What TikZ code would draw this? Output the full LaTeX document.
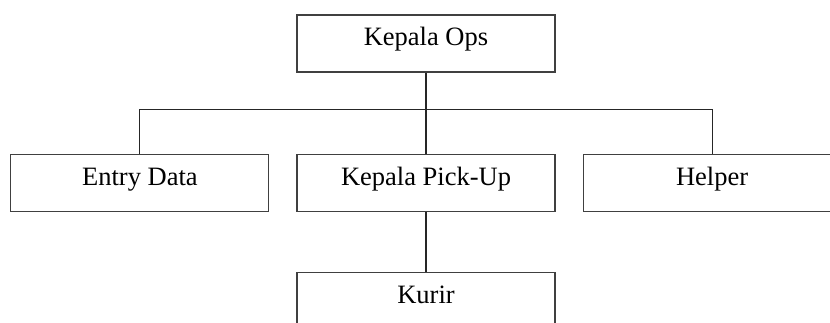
\documentclass[tikz,border=0pt]{standalone}
\usepackage{fontspec}
\setmainfont{Liberation Serif}
\usetikzlibrary{positioning}

\begin{document}
\begin{tikzpicture}[x=1pt, y=-1pt, node distance=27pt]
\tikzset{
    %Define style for boxes
    kotak/.style={
           rectangle,
           draw=black!75, line width=1.1pt,
           inner sep=0pt,
           minimum width=258pt,
           text height=31pt,
           text depth=26pt,
           font=\fontsize{26.5}{30}\selectfont,
           text centered},
    % Define line style
    garis/.style={
           draw=black!85,
           line width=1.1pt}
}
 \useasboundingbox (0,0) rectangle (830,323);
 %nodes
 \node[kotak] (ops) at (426,43.5) {Kepala Ops};
 \node[kotak, below=81pt of ops] (pickup) {Kepala Pick-Up};
 \node[kotak, left=of pickup] (entry) {Entry Data};
 \node[kotak, right=of pickup] (helper) {Helper};
 \node[kotak, below=60pt of pickup] (kurir) {Kurir};
 % horizontal bus below the top box
 \coordinate[below=37pt of ops] (bus);
 %lines
 \draw[garis] (ops.south) -- (pickup.north);
 \draw[garis] (entry.north) |- (bus) -| (helper.north);
 \draw[garis] (pickup.south) -- (kurir.north);
\end{tikzpicture}
\end{document}
